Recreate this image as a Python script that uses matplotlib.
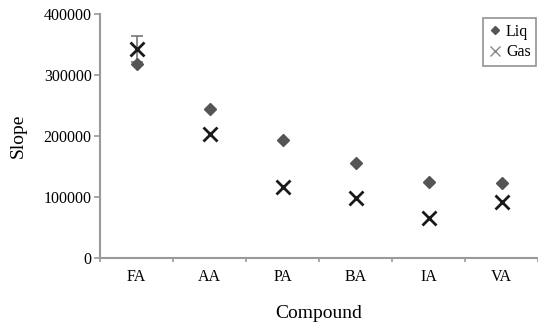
import matplotlib
matplotlib.use("Agg")
import matplotlib.pyplot as plt
import numpy as np

compounds = ["FA", "AA", "PA", "BA", "IA", "VA"]
liq = [318500, 243500, 194000, 155000, 125000, 123000]
gas = [342500, 203500, 117000, 99000, 65000, 91500]
gas_err = [22000, 0, 0, 0, 0, 0]

plt.rcParams['font.family'] = ['Liberation Serif', 'DejaVu Serif']

fig = plt.figure(figsize=(5.38, 3.26), dpi=100)
ax = fig.add_axes([100/538, 68/326, 438/538, 244/326])

x = np.arange(len(compounds))
ax.errorbar(x[:1], gas[:1], yerr=gas_err[:1], fmt='none', ecolor='#777777',
            elinewidth=1.2, capsize=4, capthick=1.2, zorder=1)
h_liq, = ax.plot(x, liq, linestyle='none', marker='D', markersize=6, color='#555555',
                 label='Liq', zorder=3)
h_gas, = ax.plot(x, gas, linestyle='none', marker='x', markersize=10, markeredgewidth=2,
                 color='#1a1a1a', label='Gas', zorder=3)

ax.set_xlim(-0.5, len(compounds) - 0.5)
ax.set_ylim(0, 400000)
ax.set_yticks([0, 100000, 200000, 300000, 400000])
ax.set_yticklabels(['0', '100000', '200000', '300000', '400000'], fontsize=11.5)
ax.set_xticks(x)
ax.set_xticklabels(compounds, fontsize=11.5)
ax.set_xticks(np.arange(-0.5, len(compounds), 1), minor=True)
ax.tick_params(axis='x', which='major', length=0, pad=8)
ax.tick_params(axis='x', which='minor', length=3, color='#999999', width=1.2)
ax.tick_params(axis='y', length=4, color='#999999', width=1.2, pad=2)

for s in ['top', 'right']:
    ax.spines[s].set_visible(False)
for s in ['left', 'bottom']:
    ax.spines[s].set_color('#999999')
    ax.spines[s].set_linewidth(1.5)

ax.set_ylabel('Slope', fontsize=14, labelpad=12)
ax.set_xlabel('Compound', fontsize=14, labelpad=14)

leg = ax.legend(handles=[h_liq, h_gas], loc='upper right',
                bbox_to_anchor=(1.0, 0.99), fontsize=11.5, frameon=True,
                fancybox=False, edgecolor='#777777', handlelength=0.8,
                handletextpad=0.3, borderpad=0.35, labelspacing=0.3, markerscale=0.7,
                borderaxespad=0.1)
leg.get_frame().set_linewidth(1.2)
leg.legend_handles[0].set_color('#555555')
leg.legend_handles[1].set_color('#888888')
leg.legend_handles[1].set_markeredgewidth(1.0)

fig.savefig('out.png', dpi=100)
